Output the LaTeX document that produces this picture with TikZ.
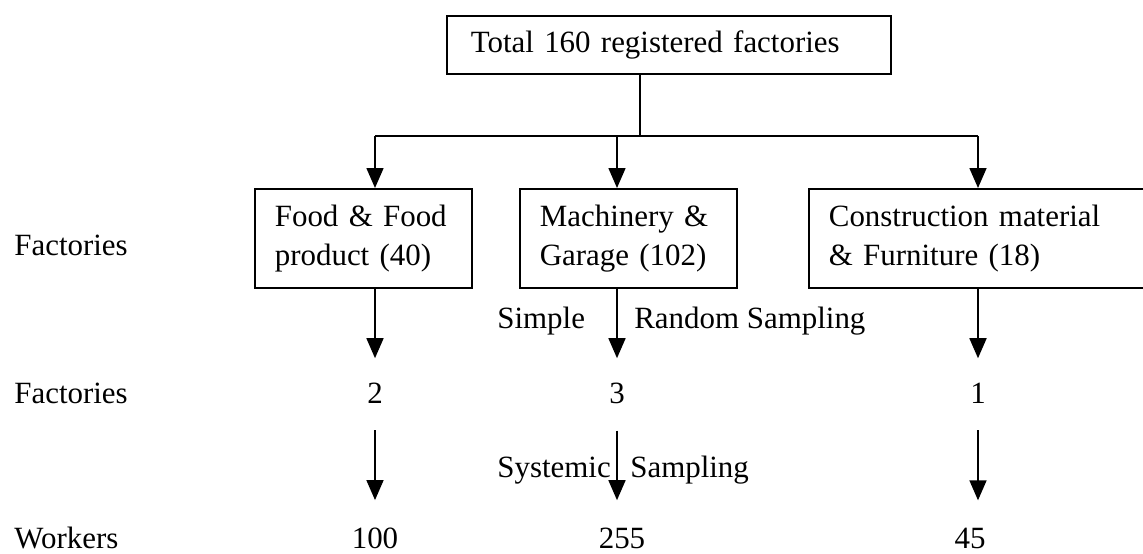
\documentclass[tikz,border=0pt]{standalone}
\usepackage{fontspec}
\setmainfont{Liberation Serif}
\usetikzlibrary{arrows.meta,positioning}

\begin{document}
\begin{tikzpicture}[x=0.02cm,y=-0.02cm,
		place/.style={rectangle,draw,line width=1pt,anchor=north west,align=left,inner xsep=0.4cm,minimum height=1.98cm},
		marrow/.style={-{Triangle[width=0.34cm,length=0.4cm]},line width=0.9pt},
		samplenum/.style={anchor=base,inner sep=0pt},
		rowlabel/.style={anchor=base west,inner sep=0pt}]
		\fontsize{17.6pt}{22pt}\selectfont
		\useasboundingbox (0,0) rectangle (1143,554);

		\node [place,minimum height=1.16cm,inner xsep=0.48cm,text width=7.92cm] (total) at (446,15) {Total 160 registered factories};
		\node [place,text width=3.54cm] (food) at (254,188) {Food \& Food\\product (40)};
		\node [place,text width=3.54cm] (machinery) at (519,188) {Machinery \&\\Garage (102)};
		\node [place,text width=5.94cm] (construction) at (808,188) {Construction material\\\& Furniture (18)};

		% row labels on the left
		\node [rowlabel] (factories-label) at (14,255) {Factories};
		\node [rowlabel] (sample-label) at (14,403) {Factories};
		\node [rowlabel] (workers-label) at (14,548) {Workers};

		% sampled factories
		\node [samplenum] (food-fact) at (375,403) {2};
		\node [samplenum] (machinery-fact) at (617,403) {3};
		\node [samplenum] (construction-fact) at (978,403) {1};

		% sampled workers
		\node [samplenum] (food-work) at (375,548) {100};
		\node [samplenum] (machinery-work) at (622,548) {255};
		\node [samplenum] (construction-work) at (970,548) {45};

		% sampling methods
		\node [rowlabel] (simple) at (497,328) {Simple};
		\node [rowlabel] (random) at (634,328) {Random Sampling};
		\node [rowlabel] (systemic) at (497,477) {Systemic};
		\node [rowlabel] (systemic-sampling) at (630,477) {Sampling};

		% branching from the total
		\coordinate (split) at (640,136);
		\coordinate (food-top) at (375,136);
		\coordinate (machinery-top) at (617,136);
		\coordinate (construction-top) at (978,136);
		\draw [line width=0.9pt] (total.south -| split) -- (split);
		\draw [line width=0.9pt] (food-top) -- (construction-top);
		\draw [marrow] (food-top) -- (food-top |- food.north);
		\draw [marrow] (machinery-top) -- (machinery-top |- machinery.north);
		\draw [marrow] (construction-top) -- (construction-top |- construction.north);

		% vertical arrows
		\draw [marrow,shorten >=0.48cm] (food.south -| food-fact) -- (food-fact.north);
		\draw [marrow,shorten >=0.48cm] (machinery.south -| machinery-fact) -- (machinery-fact.north);
		\draw [marrow,shorten >=0.48cm] (construction.south -| construction-fact) -- (construction-fact.north);

		\draw [marrow,shorten <=0.54cm,shorten >=0.54cm] (food-fact.south) -- (food-fact.south |- food-work.north);
		\draw [marrow,shorten <=0.54cm,shorten >=0.54cm] (machinery-fact.south) -- (machinery-fact.south |- machinery-work.north);
		\draw [marrow,shorten <=0.54cm,shorten >=0.54cm] (construction-fact.south) -- (construction-fact.south |- construction-work.north);
	\end{tikzpicture}
\end{document}
